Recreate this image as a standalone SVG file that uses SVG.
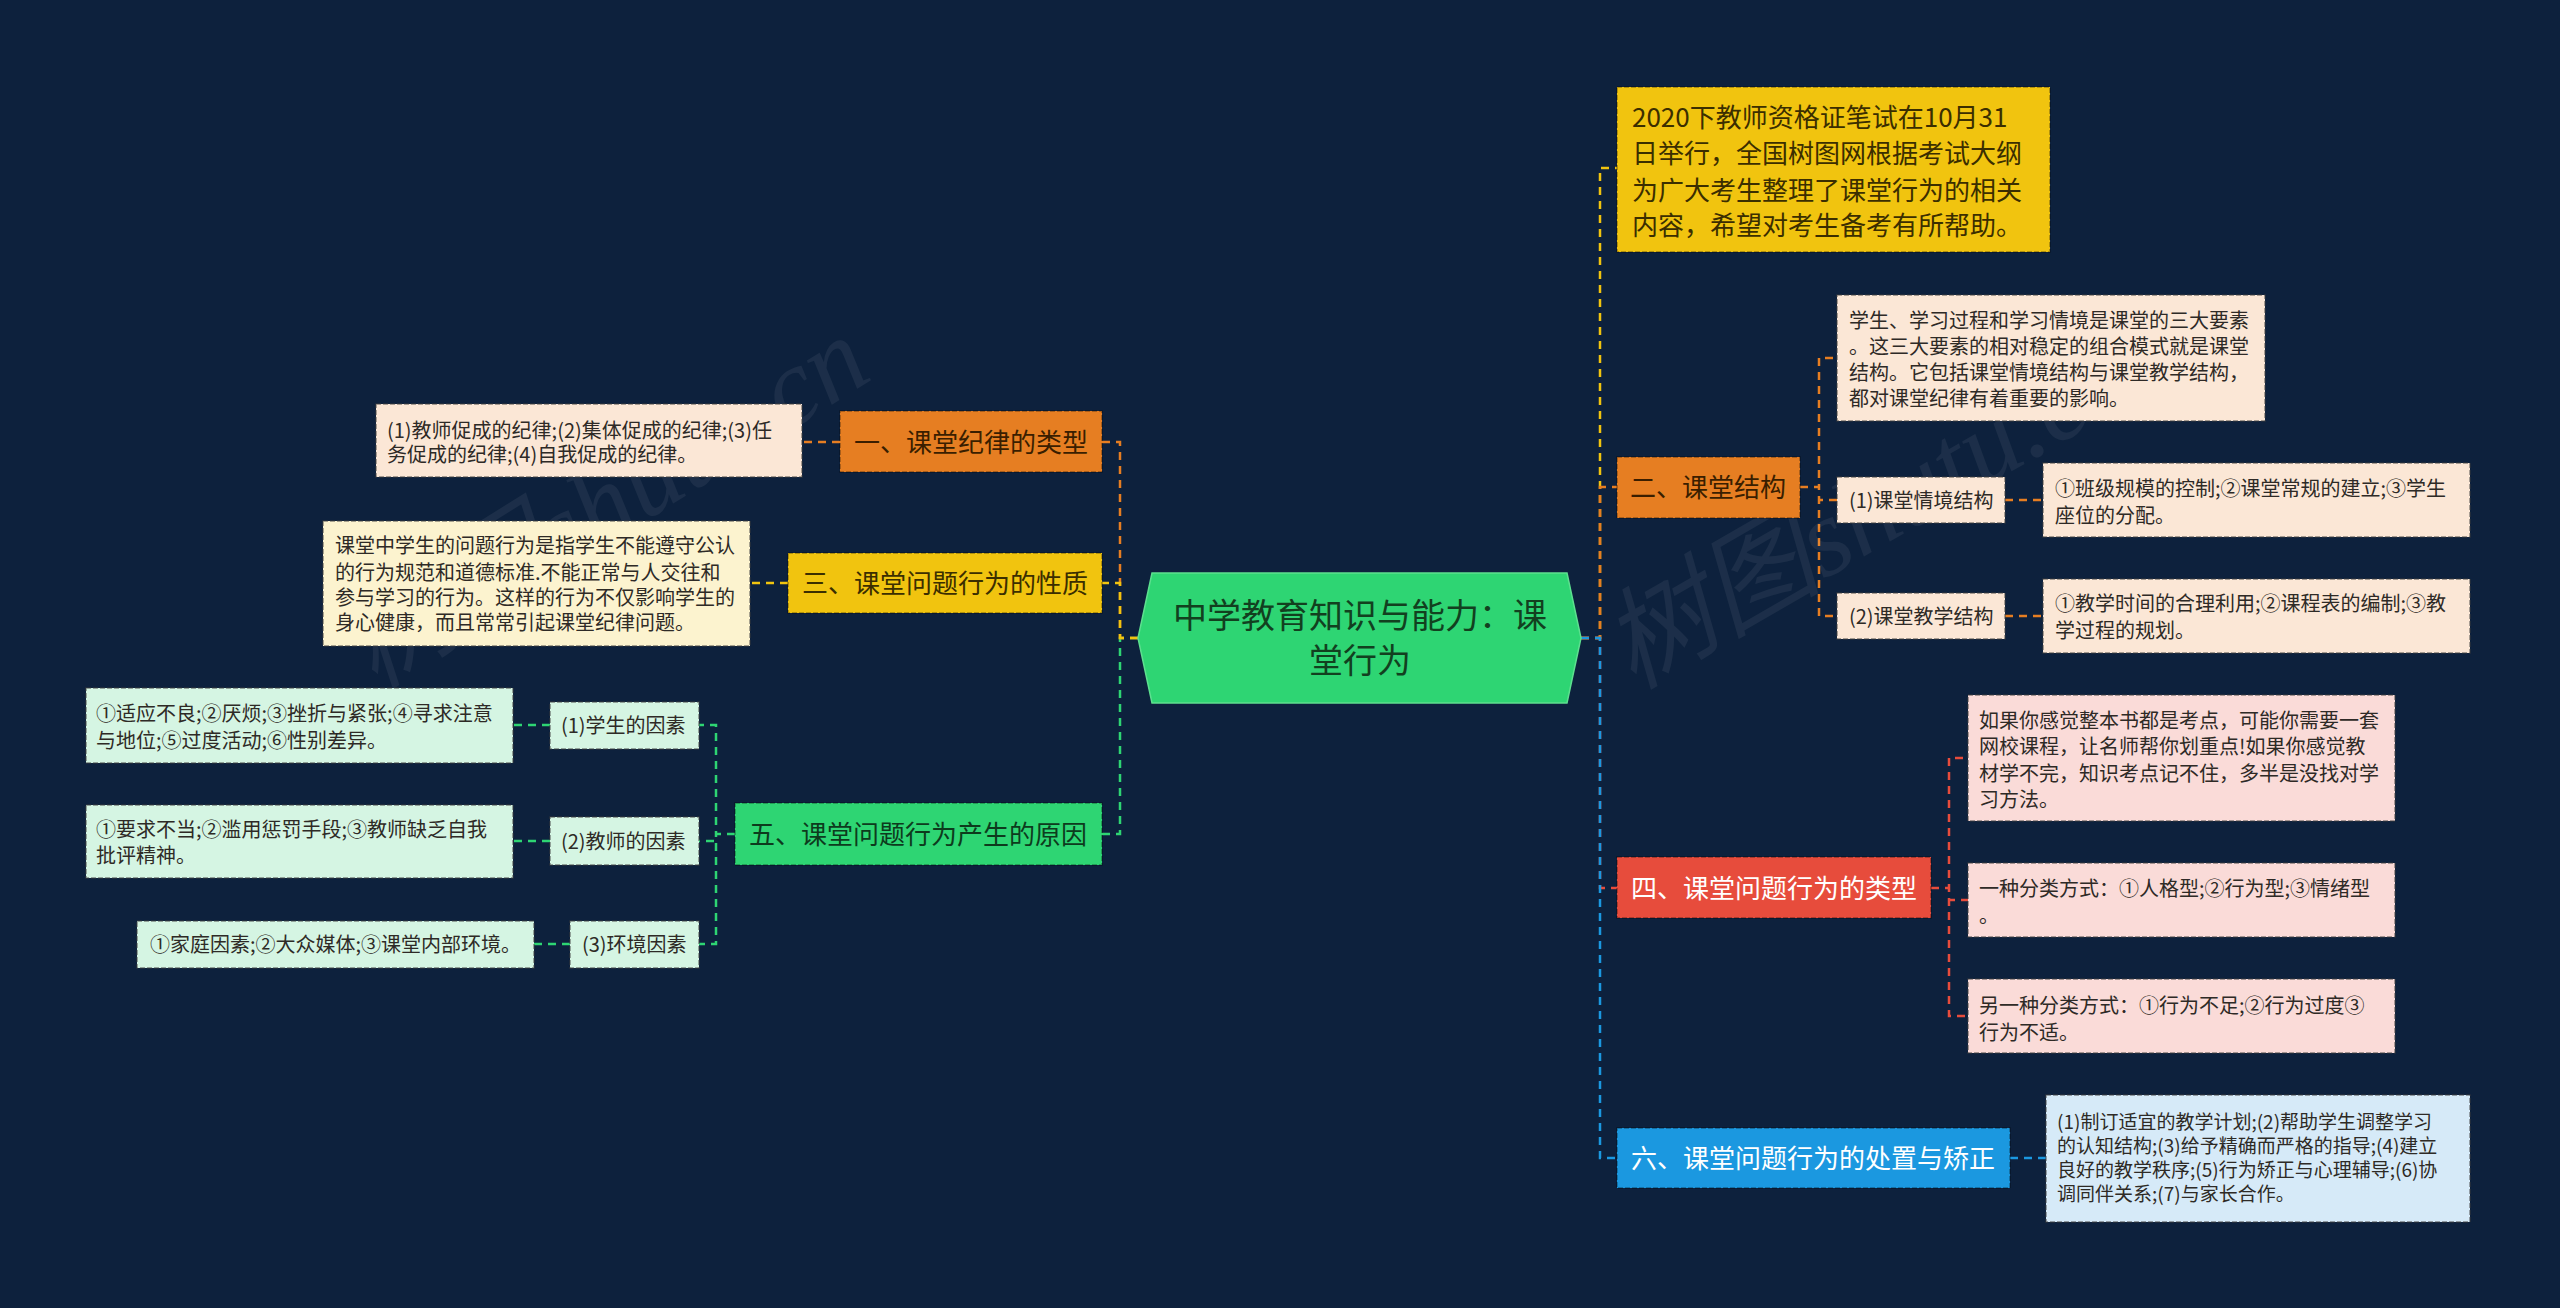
<svg xmlns="http://www.w3.org/2000/svg" width="2560" height="1308" viewBox="0 0 2560 1308">
<style>
text{font-family:"Noto Sans CJK SC","Noto Sans",sans-serif;}
.c{fill:none;stroke-width:2.5;stroke-dasharray:8 6;}
.cy{stroke:#f1c40f}.co{stroke:#e67e22}.cr{stroke:#e74c3c}.cb{stroke:#1b98e0}.cg{stroke:#2ed573}
.main{stroke:rgba(0,0,0,0.35);stroke-width:1.5;stroke-dasharray:5 2;}
.leaf{stroke:rgba(60,60,60,0.6);stroke-width:1.5;stroke-dasharray:5 2;}
.t26{font-size:26px;}
.t20{font-size:20px;fill:#2e2a26;}
.t19{font-size:19px;fill:#2e2a26;}
.mid{text-anchor:middle;}
.wm{font-family:"Liberation Serif","Noto Sans CJK SC",serif;font-style:italic;font-size:110px;fill:#ffffff;opacity:0.06;}
</style>
<rect width="2560" height="1308" fill="#0d213d"/>

<g id="connectors">
<path class="c cy" d="M1581,638 H1600 V168 H1617"/>
<path class="c co" d="M1581,638 H1600 V487 H1617"/>
<path class="c cr" d="M1581,638 H1600 V888 H1617"/>
<path class="c cb" d="M1581,638 H1600 V1158 H1617"/>
<path class="c cg" d="M1138,638 H1120 V834 H1102"/>
<path class="c co" d="M1138,638 H1120 V442 H1102"/>
<path class="c cy" d="M1138,638 H1120 V583 H1102"/>
<path class="c co" d="M1800,487 H1819 V358 H1837 M1800,487 H1819 V500 H1837 M1800,487 H1819 V616 H1837 M2005,500 H2043 M2005,616 H2043"/>
<path class="c cr" d="M1931,888 H1949 V758 H1968 M1931,888 H1949 V900 H1968 M1931,888 H1949 V1016 H1968"/>
<path class="c cb" d="M2010,1158 H2046"/>
<path class="c co" d="M840,442 H802"/>
<path class="c cy" d="M788,583 H750"/>
<path class="c cg" d="M735,834 H716 V725 H699 M735,834 H716 V841 H699 M735,834 H716 V944 H699 M550,725 H513 M550,841 H513 M570,944 H534"/>
</g>

<g id="watermark">
<text class="wm" transform="translate(375,690) rotate(-32)">树图shutu.cn</text>
<text class="wm" transform="translate(1633,690) rotate(-30)">树图shutu.cn</text>
</g>

<g id="root">
<polygon points="1138,638 1152,573 1567,573 1581,638 1567,703 1152,703" fill="#2ed573" stroke="#5de08f" stroke-width="1.5"/>
<text x="1360" y="628" class="mid" font-size="34" fill="#12401f">中学教育知识与能力：课</text>
<text x="1360" y="673" class="mid" font-size="34" fill="#12401f">堂行为</text>
</g>

<g id="intro">
<rect x="1617" y="87" width="433" height="165" fill="#f1c40f" class="main"/>
<text class="t26" fill="#3b2e00"><tspan x="1632" y="127">2020下教师资格证笔试在10月31</tspan><tspan x="1632" y="163">日举行，全国树图网根据考试大纲</tspan><tspan x="1632" y="200">为广大考生整理了课堂行为的相关</tspan><tspan x="1632" y="235">内容，希望对考生备考有所帮助。</tspan></text>
</g>

<g id="n2">
<rect x="1617" y="457" width="183" height="61" fill="#e67e22" class="main"/>
<text x="1708" y="497" class="t26 mid" fill="#3a1e00">二、课堂结构</text>
</g>
<g id="n2a">
<rect x="1837" y="295" width="428" height="126" fill="#fbe7d6" class="leaf"/>
<text class="t20"><tspan x="1849" y="328">学生、学习过程和学习情境是课堂的三大要素</tspan><tspan x="1849" y="354">。这三大要素的相对稳定的组合模式就是课堂</tspan><tspan x="1849" y="380">结构。它包括课堂情境结构与课堂教学结构，</tspan><tspan x="1849" y="406">都对课堂纪律有着重要的影响。</tspan></text>
</g>
<g id="n2b">
<rect x="1837" y="477" width="168" height="46" fill="#fbe7d6" class="leaf"/>
<text x="1849" y="508" class="t20">(1)课堂情境结构</text>
</g>
<g id="n2b1">
<rect x="2043" y="463" width="427" height="74" fill="#fbe7d6" class="leaf"/>
<text class="t20"><tspan x="2055" y="496">①班级规模的控制;②课堂常规的建立;③学生</tspan><tspan x="2055" y="523">座位的分配。</tspan></text>
</g>
<g id="n2c">
<rect x="1837" y="593" width="168" height="46" fill="#fbe7d6" class="leaf"/>
<text x="1849" y="624" class="t20">(2)课堂教学结构</text>
</g>
<g id="n2c1">
<rect x="2043" y="579" width="427" height="74" fill="#fbe7d6" class="leaf"/>
<text class="t20"><tspan x="2055" y="611">①教学时间的合理利用;②课程表的编制;③教</tspan><tspan x="2055" y="638">学过程的规划。</tspan></text>
</g>

<g id="n4">
<rect x="1617" y="857" width="314" height="61" fill="#e74c3c" class="main"/>
<text x="1774" y="898" class="t26 mid" fill="#ffffff">四、课堂问题行为的类型</text>
</g>
<g id="n4a">
<rect x="1968" y="695" width="427" height="126" fill="#fadbd8" class="leaf"/>
<text class="t20"><tspan x="1979" y="728">如果你感觉整本书都是考点，可能你需要一套</tspan><tspan x="1979" y="754">网校课程，让名师帮你划重点!如果你感觉教</tspan><tspan x="1979" y="781">材学不完，知识考点记不住，多半是没找对学</tspan><tspan x="1979" y="807">习方法。</tspan></text>
</g>
<g id="n4b">
<rect x="1968" y="863" width="427" height="74" fill="#fadbd8" class="leaf"/>
<text class="t20"><tspan x="1979" y="896">一种分类方式：①人格型;②行为型;③情绪型</tspan><tspan x="1979" y="923">。</tspan></text>
</g>
<g id="n4c">
<rect x="1968" y="979" width="427" height="74" fill="#fadbd8" class="leaf"/>
<text class="t20"><tspan x="1979" y="1013">另一种分类方式：①行为不足;②行为过度③</tspan><tspan x="1979" y="1040">行为不适。</tspan></text>
</g>

<g id="n6">
<rect x="1617" y="1128" width="393" height="60" fill="#1b98e0" class="main"/>
<text x="1813" y="1168" class="t26 mid" fill="#ffffff">六、课堂问题行为的处置与矫正</text>
</g>
<g id="n6a">
<rect x="2046" y="1095" width="424" height="127" fill="#d6eaf8" class="leaf"/>
<text class="t19"><tspan x="2057" y="1129">(1)制订适宜的教学计划;(2)帮助学生调整学习</tspan><tspan x="2057" y="1153">的认知结构;(3)给予精确而严格的指导;(4)建立</tspan><tspan x="2057" y="1177">良好的教学秩序;(5)行为矫正与心理辅导;(6)协</tspan><tspan x="2057" y="1201">调同伴关系;(7)与家长合作。</tspan></text>
</g>

<g id="n1">
<rect x="840" y="411" width="262" height="61" fill="#e67e22" class="main"/>
<text x="971" y="452" class="t26 mid" fill="#3a1e00">一、课堂纪律的类型</text>
</g>
<g id="n1a">
<rect x="376" y="404" width="426" height="73" fill="#fbe7d6" class="leaf"/>
<text class="t20"><tspan x="387" y="438">(1)教师促成的纪律;(2)集体促成的纪律;(3)任</tspan><tspan x="387" y="462">务促成的纪律;(4)自我促成的纪律。</tspan></text>
</g>

<g id="n3">
<rect x="788" y="553" width="314" height="60" fill="#f1c40f" class="main"/>
<text x="945" y="593" class="t26 mid" fill="#3b2e00">三、课堂问题行为的性质</text>
</g>
<g id="n3a">
<rect x="323" y="521" width="427" height="125" fill="#fcf3cf" class="leaf"/>
<text class="t20"><tspan x="335" y="553">课堂中学生的问题行为是指学生不能遵守公认</tspan><tspan x="335" y="580">的行为规范和道德标准.不能正常与人交往和</tspan><tspan x="335" y="605">参与学习的行为。这样的行为不仅影响学生的</tspan><tspan x="335" y="630">身心健康，而且常常引起课堂纪律问题。</tspan></text>
</g>

<g id="n5">
<rect x="735" y="803" width="367" height="62" fill="#2ed573" class="main"/>
<text x="918" y="844" class="t26 mid" fill="#0d3b1d">五、课堂问题行为产生的原因</text>
</g>
<g id="n5a">
<rect x="550" y="702" width="149" height="47" fill="#d5f5e3" class="leaf"/>
<text x="561" y="733" class="t20">(1)学生的因素</text>
</g>
<g id="n5a1">
<rect x="86" y="688" width="427" height="75" fill="#d5f5e3" class="leaf"/>
<text class="t20"><tspan x="96" y="721">①适应不良;②厌烦;③挫折与紧张;④寻求注意</tspan><tspan x="96" y="748">与地位;⑤过度活动;⑥性别差异。</tspan></text>
</g>
<g id="n5b">
<rect x="550" y="817" width="149" height="48" fill="#d5f5e3" class="leaf"/>
<text x="561" y="849" class="t20">(2)教师的因素</text>
</g>
<g id="n5b1">
<rect x="86" y="805" width="427" height="73" fill="#d5f5e3" class="leaf"/>
<text class="t20"><tspan x="96" y="837">①要求不当;②滥用惩罚手段;③教师缺乏自我</tspan><tspan x="96" y="863">批评精神。</tspan></text>
</g>
<g id="n5c">
<rect x="570" y="921" width="129" height="47" fill="#d5f5e3" class="leaf"/>
<text x="582" y="952" class="t20">(3)环境因素</text>
</g>
<g id="n5c1">
<rect x="137" y="921" width="397" height="47" fill="#d5f5e3" class="leaf"/>
<text x="150" y="952" class="t20">①家庭因素;②大众媒体;③课堂内部环境。</text>
</g>
</svg>
